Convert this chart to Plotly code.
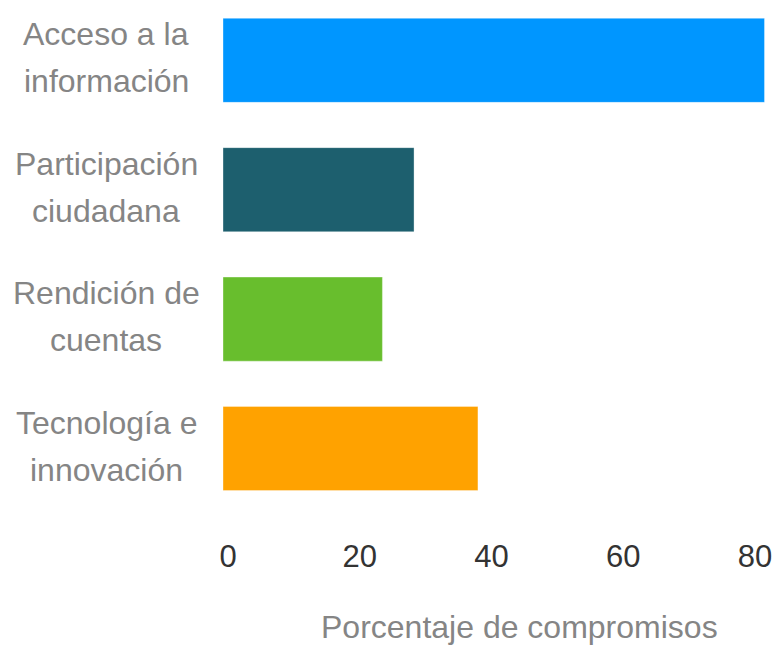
import plotly.graph_objects as go

categories = ["Acceso a la<br>información", "Participación<br>ciudadana",
              "Rendición de<br>cuentas", "Tecnología e<br>innovación"]
values = [82.2, 29.0, 24.2, 38.7]
colors = ["#0096ff", "#1d5f6e", "#68be2d", "#ffa200"]
tick_vals = [0, 20, 40, 60, 80]
x_title = "Porcentaje de compromisos"

W, H = 774, 646
L, R, T, B = 223, 0, 0, 116
plot_w = W - L - R
plot_h = H - T - B
FONT = "Arial"

fig = go.Figure()
fig.add_trace(go.Bar(
    y=categories, x=values, orientation="h",
    marker=dict(color=colors, line=dict(color="rgba(255,255,255,0.35)", width=1)),
    showlegend=False, hoverinfo="skip",
))

annotations = []
for cat in categories:
    l1, l2 = cat.split("<br>")
    for txt, ys in ((l1, 26), (l2, -21)):
        annotations.append(dict(
            text=txt, xref="paper", yref="y", x=(106 - L) / plot_w, y=cat,
            xanchor="center", yanchor="middle", yshift=ys, showarrow=False,
            font=dict(family=FONT, size=32, color="#858585"),
        ))
annotations.append(dict(
    text=x_title, xref="paper", yref="paper", x=(519 - L) / plot_w,
    y=(plot_h - 627) / plot_h, xanchor="center", yanchor="middle", showarrow=False,
    font=dict(family=FONT, size=32, color="#858585"),
))

fig.update_layout(
    width=W, height=H,
    margin=dict(l=L, r=R, t=T, b=B, pad=0),
    paper_bgcolor="white", plot_bgcolor="white",
    bargap=0.35,
    annotations=annotations,
    xaxis=dict(
        range=[0, 551 / 6.5875], tickvals=tick_vals, showgrid=False, zeroline=False,
        showline=False, ticks="", ticklabelshift=5, ticklabelstandoff=5,
        tickfont=dict(family=FONT, size=31, color="#333333"),
        fixedrange=True,
    ),
    yaxis=dict(
        range=[-0.466 + plot_h / 129.4, -0.466], showticklabels=False, showgrid=False,
        zeroline=False, showline=False, ticks="", fixedrange=True,
    ),
)

fig.write_html("out.html")
